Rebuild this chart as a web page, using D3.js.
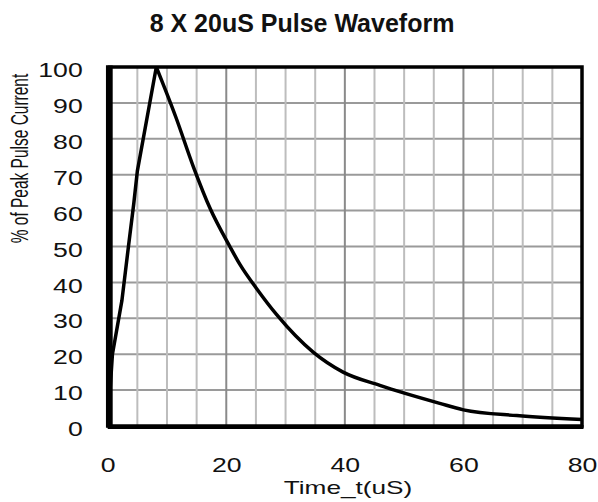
<!DOCTYPE html>
<html lang="en">
<head>
<meta charset="utf-8">
<title>8 X 20uS Pulse Waveform</title>
<style>
  body { margin: 0; background: #fff; }
  svg { display: block; font-family: Arial, "Liberation Sans", Helvetica, sans-serif; }
</style>
</head>
<body>
<svg id="chart" width="598" height="502"></svg>
<script src="https://d3js.org/d3.v7.min.js"></script>
<script>
// pulse data (time in uS, % of peak)
var riseTime = [0, 0.8, 2.4, 3.5, 4.4, 5.0, 8.2];
var risePct  = [0, 20, 35, 50, 62, 71, 100];
var decayTime = [8.2, 11.5, 14.5, 17.3, 20.6, 22.3, 25.1, 28.5, 34.7, 39.7, 45.9, 56, 60, 69, 80];
var decayPct  = [100, 86, 72, 60.5, 50, 45, 38.3, 31, 20.5, 15, 11.3, 6.3, 4.5, 2.9, 1.8];

var xTicks = [0, 20, 40, 60, 80];
var xGrid = [5, 10, 15, 20, 25, 30, 35, 40, 45, 50, 55, 60, 65, 70, 75];
var yTicks = [0, 10, 20, 30, 40, 50, 60, 70, 80, 90, 100];

var TEXT_STRETCH = 1.3; // labels in the picture are wider than tall

var svg = d3.select("#chart");
var x = d3.scaleLinear().domain([0, 80]).range([107.7, 582]);
var y = d3.scaleLinear().domain([0, 100]).range([426, 67]);

// title
svg.append("text")
  .attr("x", 302).attr("y", 32)
  .attr("text-anchor", "middle")
  .style("font-size", "25px").style("font-weight", "bold")
  .attr("fill", "#111")
  .text("8 X 20uS Pulse Waveform");

// grid
var grid = svg.append("g");
grid.selectAll(".hgrid").data(yTicks.filter(function (d) { return d > 0 && d < 100; }))
  .enter().append("line")
  .attr("x1", x(0)).attr("x2", x(80))
  .attr("y1", function (d) { return y(d); }).attr("y2", function (d) { return y(d); })
  .attr("stroke", "#9a9a9a").attr("stroke-width", 2);
grid.selectAll(".vgrid").data(xGrid)
  .enter().append("line")
  .attr("y1", y(0)).attr("y2", y(100))
  .attr("x1", function (d) { return x(d); }).attr("x2", function (d) { return x(d); })
  .attr("stroke", function (d) { return d % 20 === 0 ? "#8a8a8a" : "#bdbdbd"; })
  .attr("stroke-width", 2);

// waveform: straight rise, smooth decay
var rise = riseTime.map(function (t, i) { return [t, risePct[i]]; });
var decay = decayTime.map(function (t, i) { return [t, decayPct[i]]; });

svg.append("path").datum(rise)
  .attr("fill", "none").attr("stroke", "#000").attr("stroke-width", 3.5)
  .attr("stroke-linejoin", "round")
  .attr("d", d3.line().x(function (d) { return x(d[0]); }).y(function (d) { return y(d[1]); }));

svg.append("path").datum(decay)
  .attr("fill", "none").attr("stroke", "#000").attr("stroke-width", 3.5)
  .attr("d", d3.line().curve(d3.curveMonotoneX)
    .x(function (d) { return x(d[0]); }).y(function (d) { return y(d[1]); }));

// frame
svg.append("rect")
  .attr("x", x(0)).attr("y", y(100))
  .attr("width", x(80) - x(0)).attr("height", y(0) - y(100))
  .attr("fill", "none").attr("stroke", "#000").attr("stroke-width", 3.5);
svg.append("line") // heavy left edge
  .attr("x1", x(0) + 2.5).attr("x2", x(0) + 2.5)
  .attr("y1", y(100) - 1.5).attr("y2", y(0) + 2)
  .attr("stroke", "#000").attr("stroke-width", 5);
svg.append("line") // heavy bottom edge
  .attr("x1", x(0)).attr("x2", x(80) + 1.5)
  .attr("y1", y(0) + 1).attr("y2", y(0) + 1)
  .attr("stroke", "#000").attr("stroke-width", 4);

// axes (labels only)
var yAxis = svg.append("g")
  .attr("transform", "translate(" + x(0) + ",0)")
  .call(d3.axisLeft(y).tickValues(yTicks).tickSize(0).tickPadding(25 / TEXT_STRETCH));
var xAxis = svg.append("g")
  .attr("transform", "translate(0," + y(0) + ")")
  .call(d3.axisBottom(x).tickValues(xTicks).tickSize(0).tickPadding(31));

[yAxis, xAxis].forEach(function (g) {
  g.select(".domain").remove();
  g.selectAll("text")
    .attr("fill", "#111")
    .style("font-size", "20.5px")
    .attr("transform", "scale(" + TEXT_STRETCH + ",1)");
});
yAxis.selectAll("text").attr("dy", "0.47em");

// axis titles
svg.append("text")
  .attr("transform", "translate(348,493.5) scale(1.38,1)")
  .attr("text-anchor", "middle")
  .style("font-size", "19px").attr("fill", "#111")
  .text("Time_t(uS)");

svg.append("text")
  .attr("transform", "translate(28,158.5) scale(1.6,1) rotate(-90)")
  .attr("text-anchor", "middle")
  .style("font-size", "15.5px").attr("fill", "#111")
  .text("% of Peak Pulse Current");
</script>
</body>
</html>
